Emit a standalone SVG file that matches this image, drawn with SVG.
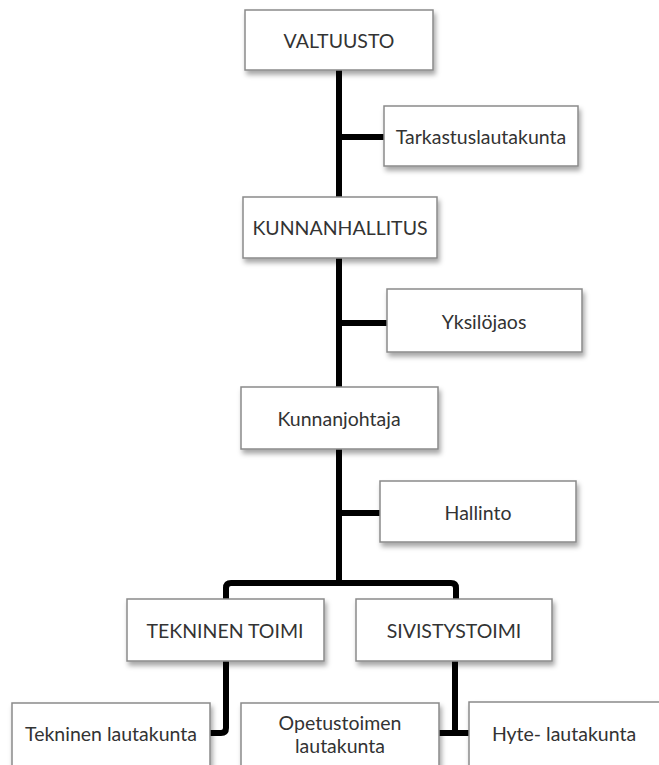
<svg xmlns="http://www.w3.org/2000/svg" width="659" height="765" viewBox="0 0 659 765">
<defs>
<filter id="sh" x="-10%" y="-10%" width="130%" height="140%">
<feDropShadow dx="2" dy="4" stdDeviation="2.5" flood-color="#000" flood-opacity="0.35"/>
</filter>
<style>
.box{fill:#fff;stroke:#8a8a8a;stroke-width:1.5;filter:url(#sh)}
.t{font-family:Lato,"Open Sans","Liberation Sans",sans-serif;font-size:19.5px;fill:#333;text-anchor:middle;dominant-baseline:central}
.c{fill:none;stroke:#000;stroke-width:6;stroke-linejoin:round}
</style>
</defs>
<rect width="659" height="765" fill="#fff"/>
<g id="connectors">
<path class="c" d="M339 70 V583"/>
<path class="c" d="M339 137 H384"/>
<path class="c" d="M339 323 H387"/>
<path class="c" d="M339 513 H380"/>
<path class="c" d="M226 599 V588 Q226 583 231 583 H451 Q456 583 456 588 V599"/>
<path class="c" d="M226 661 V728 Q226 733 221 733 H210"/>
<path class="c" d="M455 661 V733"/>
<path class="c" d="M439 733 H469"/>
</g>
<g id="valtuusto"><rect class="box" x="245" y="10" width="188" height="60"/><text class="t" x="339" y="40">VALTUUSTO</text></g>
<g id="tarkastuslautakunta"><rect class="box" x="384" y="106" width="194" height="60"/><text class="t" x="481" y="136">Tarkastuslautakunta</text></g>
<g id="kunnanhallitus"><rect class="box" x="243" y="197" width="194" height="61"/><text class="t" x="340" y="227">KUNNANHALLITUS</text></g>
<g id="yksilojaos"><rect class="box" x="387" y="289" width="195" height="63"/><text class="t" x="484" y="321">Yksilöjaos</text></g>
<g id="kunnanjohtaja"><rect class="box" x="241" y="387" width="197" height="62"/><text class="t" x="339" y="418">Kunnanjohtaja</text></g>
<g id="hallinto"><rect class="box" x="380" y="481" width="196" height="61"/><text class="t" x="478" y="512">Hallinto</text></g>
<g id="tekninen-toimi"><rect class="box" x="127" y="599" width="197" height="62"/><text class="t" x="225" y="630">TEKNINEN TOIMI</text></g>
<g id="sivistystoimi"><rect class="box" x="356" y="599" width="196" height="62"/><text class="t" x="454" y="630">SIVISTYSTOIMI</text></g>
<g id="tekninen-lautakunta"><rect class="box" x="12" y="703" width="198" height="80"/><text class="t" x="111" y="733">Tekninen lautakunta</text></g>
<g id="opetustoimen-lautakunta"><rect class="box" x="241" y="703" width="198" height="80"/><text class="t" x="340" y="722">Opetustoimen</text><text class="t" x="340" y="745">lautakunta</text></g>
<g id="hyte-lautakunta"><rect class="box" x="469" y="702" width="192" height="80"/><text class="t" x="564" y="733">Hyte- lautakunta</text></g>
</svg>
